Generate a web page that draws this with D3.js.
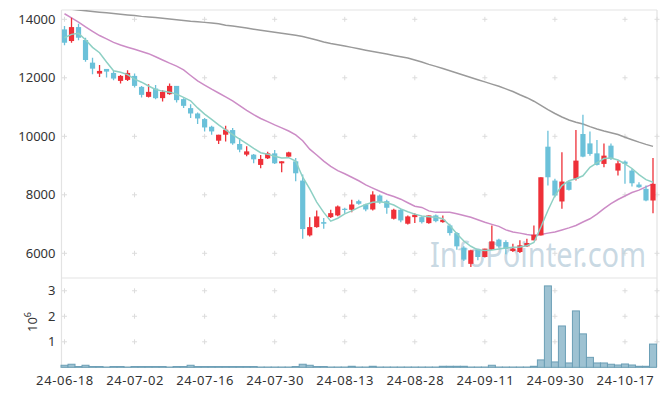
<!DOCTYPE html>
<html><head><meta charset="utf-8">
<script src="https://cdn.jsdelivr.net/npm/d3@7"></script>
<style>body{margin:0;background:#fff;}svg{display:block;font-family:"Noto Sans",sans-serif;}</style>
</head><body>
<svg id="c" width="665" height="396"></svg>
<script>
const dates = ["24-06-18","24-06-19","24-06-20","24-06-21","24-06-24","24-06-25","24-06-26","24-06-27","24-06-28","24-07-01",
"24-07-02","24-07-03","24-07-04","24-07-05","24-07-08","24-07-09","24-07-10","24-07-11","24-07-12","24-07-15",
"24-07-16","24-07-17","24-07-18","24-07-19","24-07-22","24-07-23","24-07-24","24-07-25","24-07-26","24-07-29",
"24-07-30","24-07-31","24-08-01","24-08-02","24-08-05","24-08-06","24-08-07","24-08-08","24-08-09","24-08-12",
"24-08-13","24-08-14","24-08-16","24-08-19","24-08-20","24-08-21","24-08-22","24-08-23","24-08-26","24-08-27",
"24-08-28","24-08-29","24-08-30","24-09-02","24-09-03","24-09-04","24-09-05","24-09-06","24-09-09","24-09-10",
"24-09-11","24-09-12","24-09-13","24-09-19","24-09-20","24-09-23","24-09-24","24-09-25","24-09-26","24-09-27",
"24-09-30","24-10-02","24-10-04","24-10-07","24-10-08","24-10-10","24-10-11","24-10-14","24-10-15","24-10-16",
"24-10-17","24-10-18","24-10-21","24-10-22","24-10-23"];
const open = [13655,13257,13734,13291,12518,12143,12303,12167,11894,11928,
12065,11690,11349,11633,11305,11441,11724,11271,10964,10780,
10589,10327,9850,10054,10214,9737,9373,9373,9022,9247,
9417,9077,9305,9145,8487,6613,6896,7066,7237,7295,
7523,7489,7782,7669,7499,7976,7782,7182,7489,7012,
7237,7237,7032,7295,7066,6954,6692,6194,5640,6126,
5874,6126,6467,6385,6078,6044,6238,6443,6613,9645,
8487,7772,8453,8545,10078,9758,9417,9056,9680,8828,
9134,8828,8351,8204,7806];
const high = [13768,14051,13848,13370,12688,12439,12303,12235,12099,12258,
12143,11724,11782,11758,11577,11802,11724,11305,11100,10814,
10623,10361,10054,10361,10283,9942,9656,9396,9363,9475,
9533,9145,9475,9260,8692,7237,7465,7203,7489,7635,
7557,7830,7830,7693,8123,8010,7830,7523,7523,7295,
7373,7271,7295,7329,7295,7012,6726,6238,6126,6126,
6160,6950,6500,6443,6330,6443,6501,6954,8600,10191,
8545,9451,8487,10214,10736,10167,9874,9758,9758,9169,
9169,8886,8429,8317,9260];
const low = [13110,13199,13280,12552,12121,12030,12007,11918,11803,11894,
11667,11326,11326,11270,11189,11417,11155,10964,10623,10419,
10167,10054,9737,9826,9714,9451,9315,9077,8906,9226,
9056,8770,9305,8463,6501,6579,6876,6842,7203,7271,
7353,7407,7659,7441,7465,7693,7353,7158,7066,6988,
7032,7022,7012,7066,7046,6613,6126,5738,5533,5762,
5853,6126,6194,5966,6044,6010,6215,6443,6613,8317,
7918,7523,8146,8487,9281,9339,8998,8940,9192,8657,
8375,8283,8238,7782,7373];
const close = [13199,13734,13370,12609,12313,12235,12212,11974,12065,12167,
11724,11417,11519,11304,11519,11724,11237,11042,10780,10610,
10303,10167,10054,10225,9758,9543,9485,9213,9226,9417,
9077,9145,9451,8736,6828,6896,7261,7012,7373,7601,
7489,7669,7693,7499,8010,7748,7557,7489,7124,7261,
7319,7066,7295,7100,7148,6692,6238,5785,6102,5874,
6160,6409,6238,6153,6160,6273,6351,6637,8600,8600,
7976,8453,8170,9169,9305,9397,9022,9339,9226,9077,
9056,8395,8259,7806,8375];
const ma5 = [13370,13485,13520,13300,13040,12858,12540,12240,12190,12110,
11952,11850,11720,11600,11545,11510,11440,11330,11213,10970,
10760,10580,10390,10220,10060,9906,9750,9590,9440,9390,
9316,9260,9270,9150,8600,8200,7750,7400,7100,7200,
7350,7450,7570,7670,7748,7765,7730,7650,7520,7420,
7340,7275,7250,7230,7182,6954,6671,6420,6240,6120,
6100,6110,6145,6180,6205,6215,6260,6370,6900,7465,
7976,8317,8480,8550,8650,8940,9090,9240,9260,9190,
9060,8900,8690,8520,8429];
const ma20 = [14190,14050,13900,13740,13590,13445,13330,13210,13120,13045,
12974,12900,12825,12720,12610,12500,12400,12270,12080,11894,
11750,11610,11480,11350,11213,11050,10890,10740,10610,10500,
10390,10290,10180,10050,9850,9560,9360,9150,8970,8828,
8720,8600,8480,8340,8230,8120,8020,7940,7850,7730,
7610,7570,7450,7400,7400,7400,7350,7290,7230,7150,
7060,6990,6920,6800,6730,6690,6640,6610,6647,6690,
6730,6800,6870,6950,7070,7180,7340,7530,7700,7840,
7960,8080,8160,8270,8375];
const ma120 = [14370,14345,14320,14295,14270,14245,14220,14200,14175,14150,
14130,14100,14080,14058,14035,14010,13985,13960,13935,13920,
13895,13870,13845,13800,13768,13740,13700,13660,13625,13595,
13560,13520,13485,13455,13410,13350,13290,13225,13170,13130,
13085,13040,12990,12945,12900,12855,12810,12765,12720,12680,
12610,12540,12460,12390,12315,12240,12165,12090,12010,11935,
11860,11785,11710,11620,11530,11420,11320,11200,11060,10910,
10780,10660,10560,10480,10419,10330,10250,10180,10120,10060,
9970,9885,9800,9725,9656];
const volume = [0.08,0.12,0.03,0.08,0.03,0.03,0.01,0.03,0.03,0.01,
0.03,0.03,0.03,0.03,0.03,0.01,0.03,0.03,0.08,0.03,
0.03,0.03,0.03,0.03,0.03,0.03,0.03,0.03,0.01,0.01,
0.01,0.01,0.01,0.03,0.12,0.08,0.03,0.03,0.01,0.01,
0.01,0.04,0.01,0.01,0.04,0.01,0.01,0.01,0.01,0.01,
0.01,0.01,0.01,0.01,0.04,0.04,0.04,0.04,0.01,0.01,
0.01,0.08,0.01,0.01,0.01,0.01,0.01,0.04,0.29,3.19,
0.21,1.62,0.17,2.21,1.31,0.39,0.17,0.17,0.12,0.09,
0.13,0.09,0.04,0.04,0.91].map(v => v * 1e6);
const priceTicks = [6000, 8000, 10000, 12000, 14000];
const volTicks = [1e6, 2e6, 3e6];
const dateTickIdx = [0, 10, 20, 30, 40, 50, 60, 70, 80];

const svg = d3.select("#c");
const L = 61.5, R = 656.5, T = 10, MB = 278, VB = 367.3;
const n = dates.length;
const x = d3.scaleLinear().domain([-0.5, n - 0.5]).range([61, 656.5]);
const y = d3.scaleLinear().domain([5156, 14318]).range([MB, T]);
const yv = d3.scaleLinear().domain([0, 3.5e6]).range([VB, MB]);

svg.append("rect").attr("width", 665).attr("height", 396).attr("fill", "#fff");

// frame lines
const frame = svg.append("g").attr("stroke", "#e3e3e3").attr("stroke-width", 1.2).attr("fill", "none");
frame.append("line").attr("x1", L).attr("x2", R + 0.5).attr("y1", T).attr("y2", T);
frame.append("line").attr("x1", R + 0.5).attr("x2", R + 0.5).attr("y1", T).attr("y2", VB);
frame.append("line").attr("x1", L).attr("x2", R + 0.5).attr("y1", MB).attr("y2", MB);
frame.append("line").attr("x1", L).attr("x2", R + 0.5).attr("y1", VB).attr("y2", VB);
frame.append("line").attr("x1", L).attr("x2", L).attr("y1", T).attr("y2", VB);

// grid crosses
const crosses = svg.append("g").attr("stroke", "#dcdcdc").attr("stroke-width", 1);
function cross(cx, cy) {
  crosses.append("line").attr("x1", cx - 2.5).attr("x2", cx + 2.5).attr("y1", cy).attr("y2", cy);
  crosses.append("line").attr("x1", cx).attr("x2", cx).attr("y1", cy - 2.5).attr("y2", cy + 2.5);
}
const gx = dateTickIdx.map(i => x(i)).concat([R + 0.5]);
gx.forEach(cx => {
  priceTicks.forEach(v => cross(cx, y(v)));
  volTicks.forEach(v => cross(cx, yv(v)));
});

// watermark
svg.append("text").attr("transform", "translate(430,267) scale(1,1.17)").attr("font-size", 29)
  .attr("fill", "#bfd2de").attr("fill-opacity", 0.85).text("InfoPointer.com");

// clip
svg.append("clipPath").attr("id", "mainclip").append("rect")
  .attr("x", L).attr("y", T).attr("width", R - L).attr("height", MB - T);
const main = svg.append("g").attr("clip-path", "url(#mainclip)");

const line = d3.line().x((d, i) => x(i)).y(d => y(d));
main.append("path").datum(ma120).attr("d", line).attr("fill", "none").attr("stroke", "#9a9a9a").attr("stroke-width", 1.5);
main.append("path").datum(ma20).attr("d", line).attr("fill", "none").attr("stroke", "#cc8cc6").attr("stroke-width", 1.5);

// candles
const up = "#ee3038", dn = "#6bc1d9";
const cg = main.append("g");
d3.range(n).forEach(i => {
  const c = close[i] >= open[i] ? up : dn;
  cg.append("line").attr("x1", x(i)).attr("x2", x(i)).attr("y1", y(high[i])).attr("y2", y(low[i]))
    .attr("stroke", c).attr("stroke-width", 1.3);
  const top = y(Math.max(open[i], close[i])), bot = y(Math.min(open[i], close[i]));
  cg.append("rect").attr("x", x(i) - 2.6).attr("width", 5.2).attr("y", top).attr("height", Math.max(1.2, bot - top)).attr("fill", c);
});
main.append("path").datum(ma5).attr("d", line).attr("fill", "none").attr("stroke", "#8ed0c4").attr("stroke-width", 1.5);

// volume
const bw = x(1) - x(0);
svg.append("g").selectAll("rect").data(volume).join("rect")
  .attr("x", (d, i) => x(i) - bw / 2).attr("width", bw)
  .attr("y", d => yv(d)).attr("height", d => Math.max(0, VB - yv(d)))
  .attr("fill", "#9ec2d2").attr("stroke", "#6c9fb6").attr("stroke-width", 1);

// axes
const yAxis = d3.axisLeft(y).tickValues(priceTicks).tickSize(0).tickPadding(6).tickFormat(d3.format("d"));
const ya = svg.append("g").attr("transform", `translate(${L},0)`).call(yAxis);
const vAxis = d3.axisLeft(yv).tickValues(volTicks).tickSize(0).tickPadding(6).tickFormat(d => d / 1e6);
const va = svg.append("g").attr("transform", `translate(${L},0)`).call(vAxis);
const xAxis = d3.axisBottom(x).tickValues(dateTickIdx).tickSize(0).tickPadding(8).tickFormat(i => dates[i]);
const xa = svg.append("g").attr("transform", `translate(0,${VB})`).call(xAxis);
[ya, va, xa].forEach(g => {
  g.select(".domain").remove();
  g.selectAll("text").attr("font-size", 13).attr("fill", "#333").attr("font-family", "Noto Sans, sans-serif");
});
xa.selectAll("text").attr("letter-spacing", 0.6);

// 10^6 label
const ex = svg.append("text").attr("transform", "translate(37,322) rotate(-90)").attr("font-size", 13).attr("fill", "#333").attr("text-anchor", "middle");
ex.append("tspan").text("10");
ex.append("tspan").attr("font-size", 9).attr("dy", -6).text("6");
</script>
</body></html>
